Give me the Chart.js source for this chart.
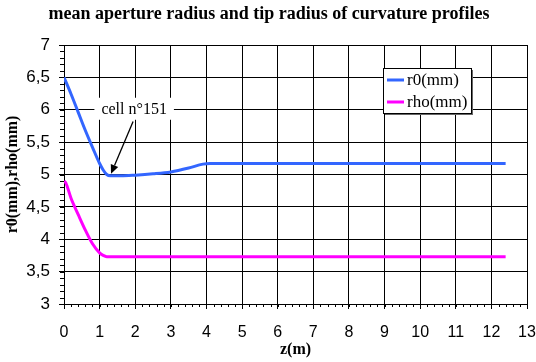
<!DOCTYPE html>
<html>
<head>
<meta charset="utf-8">
<script src="https://cdn.jsdelivr.net/npm/chart.js@4/dist/chart.umd.min.js"></script>
<style>
  html, body { margin: 0; padding: 0; background: #fff; }
  #wrap { width: 536px; height: 362px; }
</style>
</head>
<body>
<div id="wrap"><canvas id="c" width="536" height="362"></canvas></div>
<script>
// ---- data ----
const zR0      = [0, 0.2, 0.4, 0.6, 0.8, 1.0, 1.1, 1.2, 1.3, 1.6, 2.0, 2.5, 3.0, 3.5, 3.9, 4.1, 12.4];
const r0Values = [6.5, 6.24, 5.96, 5.68, 5.42, 5.17, 5.07, 5.0, 4.98, 4.98, 4.99, 5.01, 5.04, 5.10, 5.16, 5.17, 5.17];
const zRho      = [0, 0.05, 0.2, 0.4, 0.6, 0.8, 1.0, 1.1, 1.2, 12.4];
const rhoValues = [4.9, 4.87, 4.63, 4.38, 4.14, 3.93, 3.79, 3.75, 3.73, 3.73];
const seriesLabels = ['r0(mm)', 'rho(mm)'];
const seriesColors = ['#3366FF', '#FF00FF'];
const titleText = 'mean aperture radius and tip radius of curvature profiles';
const xTitle = 'z(m)';
const yTitle = 'r0(mm),rho(mm)';
const xTicks = [0, 13, 1];      // min, max, step
const yTicks = [3, 7, 0.5];     // min, max, step
const annotationText = 'cell n°151';
const annotationLabelAt = [1.97, 6.0];
const arrowTail = [1.94, 5.82];
const arrowHead = [1.32, 5.01];

const serif = '"Liberation Serif", "Times New Roman", serif';
const sans = '"Liberation Sans", Arial, sans-serif';

function pts(xs, ys) { return xs.map((x, i) => ({ x: x, y: ys[i] })); }

const titlePlugin = {
  id: 'titleText',
  afterDraw(chart) {
    const ctx = chart.ctx;
    ctx.save();
    ctx.font = 'bold 18px ' + serif;
    ctx.fillStyle = '#000';
    ctx.textAlign = 'center';
    ctx.textBaseline = 'middle';
    ctx.fillText(titleText, 269, 14);
    ctx.restore();
  }
};

const minorTicks = {
  id: 'minorTicks',
  afterDraw(chart) {
    const ctx = chart.ctx, xs = chart.scales.x, ys = chart.scales.y;
    const a = chart.chartArea;
    ctx.save();
    ctx.strokeStyle = '#000';
    ctx.lineWidth = 1;
    ctx.beginPath();
    for (let i = 0; i <= 40; i++) {
      const v = yTicks[0] + i * 0.1;
      const py = Math.round(ys.getPixelForValue(v)) + 0.5;
      ctx.moveTo(a.left - 4, py); ctx.lineTo(a.left, py);
    }
    for (let i = 0; i <= 65; i++) {
      const v = xTicks[0] + i * 0.2;
      const px = Math.round(xs.getPixelForValue(v)) + 0.5;
      ctx.moveTo(px, a.bottom); ctx.lineTo(px, a.bottom + 3);
    }
    ctx.stroke();
    ctx.restore();
  }
};

const annotation = {
  id: 'annotation',
  afterDatasetsDraw(chart) {
    const ctx = chart.ctx, xs = chart.scales.x, ys = chart.scales.y;
    ctx.save();
    ctx.font = '16px ' + serif;
    const tx = xs.getPixelForValue(annotationLabelAt[0]);
    const ty = ys.getPixelForValue(annotationLabelAt[1]);
    const w = ctx.measureText(annotationText).width + 14;
    ctx.fillStyle = '#fff';
    ctx.fillRect(tx - w / 2, ty - 12, w, 22);
    ctx.fillStyle = '#000';
    ctx.textAlign = 'center';
    ctx.textBaseline = 'middle';
    ctx.fillText(annotationText, tx, ty);
    const x1 = xs.getPixelForValue(arrowTail[0]), y1 = ys.getPixelForValue(arrowTail[1]);
    const x2 = xs.getPixelForValue(arrowHead[0]), y2 = ys.getPixelForValue(arrowHead[1]);
    const ang = Math.atan2(y2 - y1, x2 - x1);
    const hl = 9, hw = 4;
    const bx = x2 - hl * Math.cos(ang), by = y2 - hl * Math.sin(ang);
    ctx.strokeStyle = '#000';
    ctx.lineWidth = 1.3;
    ctx.beginPath();
    ctx.moveTo(x1, y1); ctx.lineTo(bx, by);
    ctx.stroke();
    ctx.beginPath();
    ctx.moveTo(x2, y2);
    ctx.lineTo(bx + hw * Math.sin(ang), by - hw * Math.cos(ang));
    ctx.lineTo(bx - hw * Math.sin(ang), by + hw * Math.cos(ang));
    ctx.closePath();
    ctx.fillStyle = '#000';
    ctx.fill();
    ctx.restore();
  }
};

const boxLegend = {
  id: 'boxLegend',
  afterDraw(chart) {
    const ctx = chart.ctx, a = chart.chartArea;
    const left = a.left + 319, top = a.top + 23, w = 88, h = 45;
    ctx.save();
    ctx.fillStyle = '#666';
    ctx.fillRect(left + 2, top + 2, w, h);
    ctx.fillStyle = '#fff';
    ctx.fillRect(left, top, w, h);
    ctx.strokeStyle = '#000';
    ctx.lineWidth = 1;
    ctx.strokeRect(left + 0.5, top + 0.5, w, h);
    ctx.font = '17px ' + serif;
    ctx.textBaseline = 'middle';
    chart.data.datasets.forEach((ds, i) => {
      const y = top + 12 + i * 22;
      ctx.strokeStyle = ds.borderColor;
      ctx.lineWidth = 3;
      ctx.beginPath();
      ctx.moveTo(left + 4, y); ctx.lineTo(left + 21, y);
      ctx.stroke();
      ctx.fillStyle = '#000';
      ctx.fillText(ds.label, left + 24, y + 1);
    });
    ctx.restore();
  }
};

new Chart(document.getElementById('c'), {
  type: 'line',
  data: {
    datasets: [
      { label: seriesLabels[0], data: pts(zR0, r0Values), borderColor: seriesColors[0], borderWidth: 3,
        pointRadius: 0, cubicInterpolationMode: 'monotone', fill: false },
      { label: seriesLabels[1], data: pts(zRho, rhoValues), borderColor: seriesColors[1], borderWidth: 3,
        pointRadius: 0, cubicInterpolationMode: 'monotone', fill: false }
    ]
  },
  options: {
    responsive: false,
    animation: false,
    devicePixelRatio: 1,
    layout: { padding: { left: 0, right: 0, top: 45, bottom: 0 } },
    plugins: {
      legend: { display: false },
      tooltip: { enabled: false },
      title: { display: false }
    },
    scales: {
      x: {
        type: 'linear', min: xTicks[0], max: xTicks[1],
        afterFit: s => { s.height = 58; s.paddingRight = 9; s.paddingLeft = 0; },
        ticks: { stepSize: xTicks[2], color: '#000', font: { family: sans, size: 16 }, padding: 14, maxRotation: 0 },
        grid: { color: '#000', lineWidth: 1, tickLength: 5 },
        border: { color: '#000' },
        title: { display: true, text: xTitle, color: '#000', font: { family: serif, size: 16, weight: 'bold' }, padding: { top: 0, bottom: 3 } }
      },
      y: {
        type: 'linear', min: yTicks[0], max: yTicks[1],
        afterFit: s => { s.width = 64; s.paddingTop = 0; s.paddingBottom = 0; },
        ticks: { stepSize: yTicks[2], color: '#000', font: { family: sans, size: 17 }, padding: 9,
          callback: v => String(v).replace('.', ',') },
        grid: { color: '#000', lineWidth: 1, tickLength: 5 },
        border: { color: '#000' },
        title: { display: true, text: yTitle, color: '#000', font: { family: serif, size: 16, weight: 'bold' }, padding: { top: 3, bottom: 0 } }
      }
    }
  },
  plugins: [titlePlugin, minorTicks, annotation, boxLegend]
});
</script>
</body>
</html>
